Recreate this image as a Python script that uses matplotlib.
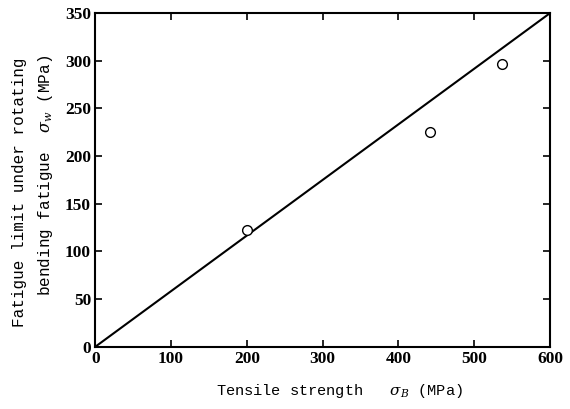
import matplotlib.pyplot as plt

plt.rcParams['mathtext.fontset'] = 'dejavuserif'

# measured data
tensile = [200, 442, 536]
fatigue = [123, 225, 297]

# reference line sigma_w = sigma_B * 350/600
line_x = [0, 600]
line_y = [0, 350]

fig = plt.figure(figsize=(5.7, 4.09), dpi=100)
ax = fig.add_axes([0.167, 0.152, 0.798, 0.816])

ax.plot(line_x, line_y, color='black', lw=1.5)
ax.plot(tensile, fatigue, 'o', mfc='white', mec='black', ms=7, mew=1)

ax.set_xlim(0, 600)
ax.set_ylim(0, 350)
ax.set_xticks(range(0, 601, 100))
ax.set_yticks(range(0, 351, 50))
ax.tick_params(direction='in', top=True, right=True, length=5, width=1.2, pad=3)
for lab in ax.get_xticklabels() + ax.get_yticklabels():
    lab.set_fontfamily('Liberation Serif')
    lab.set_fontweight('bold')
    lab.set_fontsize(12.5)
for s in ax.spines.values():
    s.set_linewidth(1.5)

mono = 'Liberation Mono'
fig.text(0.595, 0.022, r'Tensile strength   $\sigma_B$ (MPa)', family=mono,
         fontsize=11, ha='center', va='bottom')
fig.text(0.035, 0.53, 'Fatigue limit under rotating', family=mono,
         fontsize=11.5, rotation=90, ha='center', va='center')
fig.text(0.08, 0.57, r'bending fatigue  $\sigma_w$ (MPa)', family=mono,
         fontsize=11.5, rotation=90, ha='center', va='center')

plt.savefig('out.png')
